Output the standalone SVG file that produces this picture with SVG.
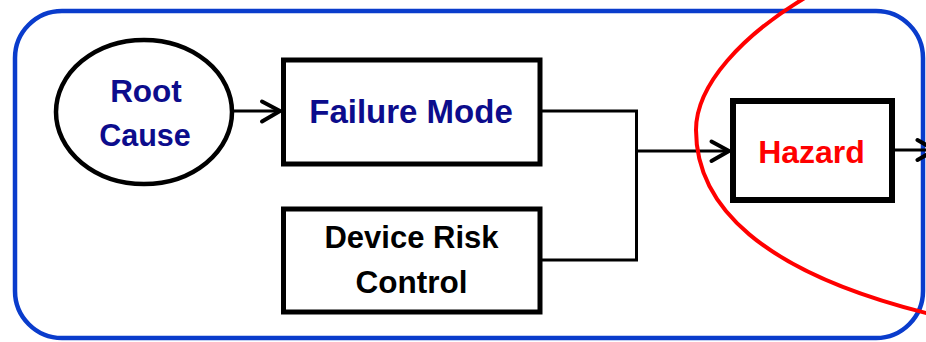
<svg xmlns="http://www.w3.org/2000/svg" width="926" height="342" viewBox="0 0 926 342">
<defs>
<style>
.box{fill:#fff;stroke:#000;stroke-width:5}
.conn{fill:none;stroke:#000;stroke-width:3}
.head{fill:none;stroke:#000;stroke-width:4;stroke-linecap:round;stroke-linejoin:round}
.t{font-family:"Liberation Sans",Arial,sans-serif;font-weight:bold;text-anchor:middle}
.blue{fill:#0c0c8c}
</style>
</defs>
<rect x="15" y="11" width="908" height="327" rx="47" ry="47" fill="#fff" stroke="#0a3ccc" stroke-width="4.5"/>
<g id="connectors">
<line class="conn" x1="233" y1="111" x2="279" y2="111"/>
<polyline class="head" points="262,101.5 280,111 262,121.5"/>
<polyline class="conn" points="542,111 636.5,111 636.5,260 542,260"/>
<line class="conn" x1="636.5" y1="151" x2="728" y2="151"/>
<polyline class="head" points="711.5,141.5 729,151 711.5,161"/>
<line class="conn" x1="895" y1="150" x2="930" y2="150"/>
<polyline class="head" points="917.5,140 935,150 917.5,160"/>
</g>
<g id="root-cause">
<ellipse cx="144" cy="112" rx="88" ry="72" fill="#fff" stroke="#000" stroke-width="4.5"/>
<text class="t blue" x="146" y="102" font-size="31.5">Root</text>
<text class="t blue" x="145" y="146" font-size="30.5">Cause</text>
</g>
<g id="failure-mode">
<rect class="box" x="283.5" y="60" width="256.5" height="104"/>
<text class="t blue" x="411" y="123" font-size="33">Failure Mode</text>
</g>
<g id="device-risk-control">
<rect class="box" x="283.5" y="209" width="256.5" height="103"/>
<text class="t" x="411.5" y="248" fill="#000" font-size="31">Device Risk</text>
<text class="t" x="411.5" y="293" fill="#000" font-size="31.5">Control</text>
</g>
<g id="hazard">
<rect x="733" y="101" width="159" height="99" fill="#fff" stroke="#000" stroke-width="6"/>
<text class="t" x="811.5" y="163" fill="#ff0000" font-size="32">Hazard</text>
</g>
<path d="M 808 -4 C 742 35, 696 85, 696 130 C 696 205, 760 272, 930 314" fill="none" stroke="#ff0000" stroke-width="4"/>
</svg>
